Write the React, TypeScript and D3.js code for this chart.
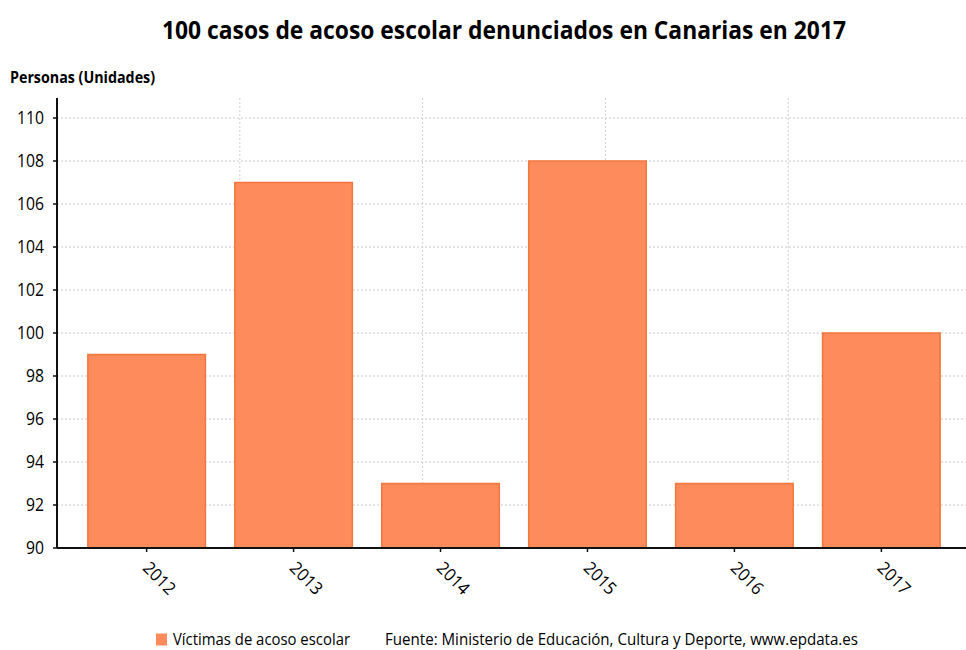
import React from "react";
import * as d3 from "d3";

const years: string[] = ["2012", "2013", "2014", "2015", "2016", "2017"];
const victims: number[] = [99, 107, 93, 108, 93, 100];
const yTicks: number[] = [90, 92, 94, 96, 98, 100, 102, 104, 106, 108, 110];
const title = "100 casos de acoso escolar denunciados en Canarias en 2017";
const yLabel = "Personas (Unidades)";
const legendLabel = "Víctimas de acoso escolar";
const source = "Fuente: Ministerio de Educación, Cultura y Deporte, www.epdata.es";

const W = 966;
const H = 650;
const left = 57;
const right = 971;
const top = 118;
const bottom = 548;
const FONT = "'Open Sans', 'Noto Sans', sans-serif";
const BAR_FILL = "#fd8b5b";
const BAR_STROKE = "#f3763d";

export default function App() {
  const x = d3
    .scaleBand<string>()
    .domain(years)
    .range([left, right])
    .paddingInner(0.2)
    .paddingOuter(0.21);
  const y = d3.scaleLinear().domain([90, 110]).range([bottom, top]);
  const vGrid = d3.scaleLinear().domain([0, 5]).range([left, right]);
  const vGridTicks = d3.range(1, 5);

  return (
    <svg
      width={W}
      height={H}
      style={{ position: "absolute", left: 0, top: 0, background: "#fff" }}
      fontFamily={FONT}
    >
      <text
        x={162}
        y={38.5}
        fontSize={24.5}
        fontWeight={700}
        fill="#000"
        textLength={684}
        lengthAdjust="spacingAndGlyphs"
      >
        {title}
      </text>
      <text
        x={10}
        y={82.5}
        fontSize={16.2}
        fontWeight={700}
        fill="#000"
        textLength={145}
        lengthAdjust="spacingAndGlyphs"
      >
        {yLabel}
      </text>

      {/* horizontal grid */}
      {yTicks.map((t) => (
        <line
          key={"h" + t}
          x1={left}
          x2={W}
          y1={y(t)}
          y2={y(t)}
          stroke="#c8c8c8"
          strokeWidth={1}
          strokeDasharray="2,2"
        />
      ))}
      {/* vertical grid */}
      {vGridTicks.map((t) => (
        <line
          key={"v" + t}
          x1={vGrid(t)}
          x2={vGrid(t)}
          y1={top - 20}
          y2={bottom}
          stroke="#d0d0d0"
          strokeWidth={1}
          strokeDasharray="2,2"
        />
      ))}

      {/* bars */}
      {years.map((yr, i) => (
        <rect
          key={yr}
          x={x(yr)}
          y={y(victims[i])}
          width={x.bandwidth()}
          height={bottom - y(victims[i])}
          fill={BAR_FILL}
          stroke={BAR_STROKE}
          strokeWidth={1.5}
        />
      ))}

      {/* y axis */}
      <line x1={left} x2={left} y1={top - 20} y2={bottom} stroke="#111" strokeWidth={2} />
      {yTicks.map((t) => {
        const label = String(t);
        return (
          <g key={"yt" + t}>
            <line x1={left - 4} x2={left} y1={y(t)} y2={y(t)} stroke="#111" strokeWidth={1.5} />
            <text
              x={left - 13}
              y={y(t)}
              dy="0.36em"
              textAnchor="end"
              fontSize={18}
              fill="#000"
              textLength={label.length * 9}
              lengthAdjust="spacingAndGlyphs"
            >
              {label}
            </text>
          </g>
        );
      })}

      {/* x axis */}
      <line x1={left} x2={W} y1={bottom} y2={bottom} stroke="#111" strokeWidth={2} />
      {years.map((yr) => {
        const cx = (x(yr) as number) + x.bandwidth() / 2;
        return (
          <g key={"xt" + yr}>
            <line x1={cx} x2={cx} y1={bottom} y2={bottom + 4} stroke="#111" strokeWidth={1.5} />
            <text
              transform={`translate(${cx - 5},${bottom + 21}) rotate(45)`}
              fontSize={17.5}
              fill="#000"
              textLength={38}
              lengthAdjust="spacingAndGlyphs"
            >
              {yr}
            </text>
          </g>
        );
      })}

      {/* legend */}
      <rect x={156} y={633.5} width={11} height={12} fill={BAR_FILL} />
      <text
        x={173}
        y={645}
        fontSize={16.5}
        fill="#000"
        textLength={177}
        lengthAdjust="spacingAndGlyphs"
      >
        {legendLabel}
      </text>
      <text
        x={385}
        y={645}
        fontSize={16.5}
        fill="#000"
        textLength={473}
        lengthAdjust="spacingAndGlyphs"
      >
        {source}
      </text>
    </svg>
  );
}
